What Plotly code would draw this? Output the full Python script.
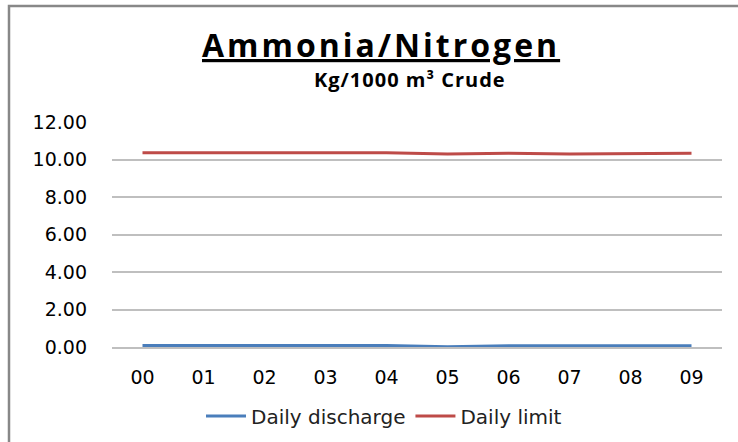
import plotly.graph_objects as go

# # Chart data
days = ['00', '01', '02', '03', '04', '05', '06', '07', '08', '09']
daily_discharge = [0.08, 0.08, 0.08, 0.08, 0.08, 0.02, 0.07, 0.07, 0.07, 0.07]
daily_limit = [10.36, 10.36, 10.36, 10.36, 10.36, 10.30, 10.34, 10.30, 10.30, 10.34]
y_ticks = [0, 2, 4, 6, 8, 10, 12]
y_tick_labels = ['0.00', '2.00', '4.00', '6.00', '8.00', '10.00', '12.00']

fig = go.Figure()

fig.add_trace(go.Scatter(x=days, y=daily_discharge, mode='lines', name='Daily discharge',
                         line=dict(color='#4A7EBB', width=3)))
fig.add_trace(go.Scatter(x=days, y=daily_limit, mode='lines', name='Daily limit',
                         line=dict(color='#BE4B48', width=3)))

fig.update_layout(
    width=738, height=442,
    margin=dict(l=112, r=16, t=122, b=95, autoexpand=False),
    paper_bgcolor='white', plot_bgcolor='white',
    font=dict(family='DejaVu Sans', size=19, color='#000000'),
    showlegend=True,
    legend=dict(orientation='h', x=(384 - 112) / 610, xanchor='center',
                y=(347 - 416) / 225, yanchor='middle',
                font=dict(size=20, color='#222222'), itemwidth=40, tracegroupgap=0),
)

# Title and subtitle as annotations (letter spacing widens the text like the reference)
fig.add_annotation(text='<span style="letter-spacing:3px"><u><b>Ammonia/Nitrogen</b></u></span>',
                   xref='paper', yref='paper',
                   x=(381 - 112) / 610, y=(347 - 44) / 225, yanchor='middle', showarrow=False,
                   font=dict(family='Open Sans', size=32, color='#000000'))
fig.add_annotation(text='<span style="letter-spacing:1px"><b>Kg/1000 m³ Crude</b></span>',
                   xref='paper', yref='paper',
                   x=(410 - 112) / 610, y=(347 - 79) / 225, yanchor='middle', showarrow=False,
                   font=dict(family='Open Sans', size=20, color='#000000'))

fig.update_xaxes(type='category', range=[-0.5, 9.5], showgrid=False,
                 showline=True, linecolor='#BFBFBF', linewidth=1.5,
                 ticks='', ticklabelstandoff=12, tickfont=dict(size=19))
fig.update_yaxes(range=[0, 12], tickvals=y_ticks, ticktext=y_tick_labels,
                 showgrid=True, gridcolor='#BFBFBF', gridwidth=1.5,
                 zeroline=False, showline=False, ticks='',
                 ticklabelstandoff=24, tickfont=dict(size=19))

# Chart border
fig.add_shape(type='rect', xref='paper', yref='paper',
              x0=(9 - 112) / 610, x1=1.2, y0=-0.6, y1=(347 - 6) / 225,
              line=dict(color='#888888', width=2.5), layer='below')

fig.write_html('out.html', config={'displayModeBar': False},
               post_script="document.body.style.margin='0px';")
